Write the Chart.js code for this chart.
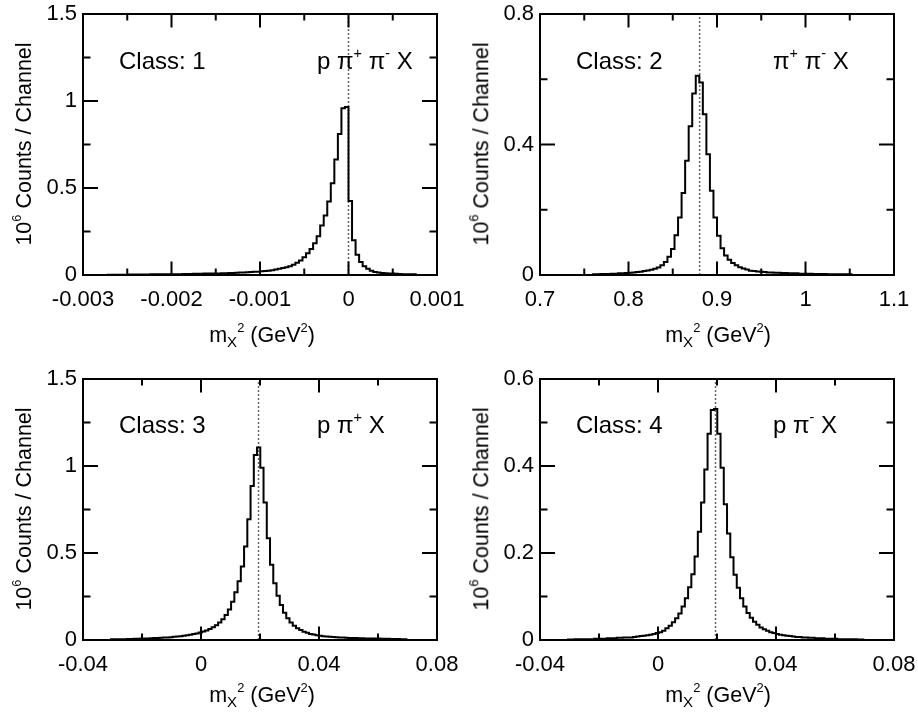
<!DOCTYPE html>
<html>
<head>
<meta charset="utf-8">
<script src="https://cdn.jsdelivr.net/npm/chart.js@4.4.1/dist/chart.umd.min.js"></script>
<style>
  body { margin: 0; background: #fff; width: 918px; height: 723px; position: relative; overflow: hidden;
         font-family: "Liberation Sans", Arial, sans-serif; color: #000; }
  canvas { position: absolute; }
  .txt { position: absolute; white-space: nowrap; line-height: 1; }
  .cls { font-size: 24px; }
  .xt { font-size: 21.5px; transform: translateX(-50%); }
  .yt { font-size: 21.5px; transform: translate(-50%, -50%) rotate(-90deg); }
  sup { font-size: 0.6em; position: relative; top: -0.75em; vertical-align: baseline; }
  sub { font-size: 0.7em; position: relative; top: 0.35em; vertical-align: baseline; }
</style>
</head>
<body>
<canvas id="c1" width="478" height="361" style="left:0;top:0"></canvas>
<canvas id="c2" width="459" height="361" style="left:459px;top:0"></canvas>
<canvas id="c3" width="478" height="362" style="left:0;top:361px"></canvas>
<canvas id="c4" width="459" height="362" style="left:459px;top:361px"></canvas>

<script>
// ---- data (counts in units of 10^6 per channel) ----

// class 1: p pi+ pi- X
const binStart1 = -0.00272;
const binWidth1 = 0.00004;
const counts1 = [
  0.002, 0.002, 0.002, 0.002, 0.002, 0.002, 0.003, 0.003,
  0.003, 0.003, 0.003, 0.003, 0.004, 0.004, 0.004, 0.004, 0.004, 0.005,
  0.005, 0.005, 0.005, 0.006, 0.006, 0.006, 0.007, 0.007, 0.007, 0.008,
  0.008, 0.008, 0.009, 0.009, 0.010, 0.010, 0.011, 0.012, 0.013, 0.014,
  0.015, 0.016, 0.017, 0.018, 0.019, 0.021, 0.023, 0.025, 0.028, 0.032,
  0.036, 0.040, 0.045, 0.051, 0.059, 0.070, 0.083, 0.102, 0.125, 0.150,
  0.183, 0.223, 0.284, 0.342, 0.422, 0.528, 0.664, 0.811, 0.958, 0.965,
  0.425, 0.200, 0.116, 0.074, 0.051, 0.036, 0.024, 0.017, 0.014, 0.011,
  0.010, 0.009, 0.008, 0.007, 0.006, 0.005, 0.005, 0.004, 0.004
];

// class 2: pi+ pi- X
const binStart2 = 0.760;
const binWidth2 = 0.004;
const counts2 = [
  0.002, 0.002, 0.003, 0.003, 0.003, 0.004, 0.004, 0.005, 0.005, 0.006,
  0.007, 0.008, 0.009, 0.010, 0.012, 0.014, 0.016, 0.019, 0.023, 0.030,
  0.040, 0.056, 0.080, 0.122, 0.176, 0.251, 0.350, 0.456, 0.556, 0.611,
  0.590, 0.493, 0.370, 0.258, 0.176, 0.120, 0.082, 0.060, 0.047, 0.037,
  0.030, 0.024, 0.020, 0.017, 0.013, 0.012, 0.011, 0.010, 0.009, 0.008,
  0.008, 0.007, 0.007, 0.006, 0.006, 0.005, 0.005, 0.005, 0.004, 0.004,
  0.004, 0.004, 0.003, 0.003, 0.003, 0.003, 0.002, 0.002, 0.002, 0.002,
  0.002, 0.002, 0.002
];

// class 3: p pi+ X
const binStart3 = -0.0305;
const binWidth3 = 0.0011;
const counts3 = [
  0.004, 0.004, 0.005, 0.005, 0.005, 0.006, 0.006, 0.007, 0.007, 0.008,
  0.009, 0.009, 0.010, 0.011, 0.012, 0.013, 0.014, 0.015, 0.016, 0.018,
  0.020, 0.022, 0.024, 0.027, 0.030, 0.034, 0.038, 0.043, 0.049, 0.055,
  0.063, 0.073, 0.085, 0.100, 0.119, 0.144, 0.176, 0.220, 0.274, 0.338,
  0.423, 0.537, 0.694, 0.885, 1.063, 1.107,
  0.990, 0.790, 0.585, 0.432, 0.326, 0.255, 0.201, 0.157, 0.125, 0.100,
  0.082, 0.068, 0.057, 0.048, 0.041, 0.035, 0.031, 0.027, 0.024,
  0.022, 0.020, 0.019, 0.017, 0.016, 0.015, 0.014, 0.013, 0.012, 0.012,
  0.011, 0.010, 0.010, 0.009, 0.009, 0.008, 0.008, 0.008, 0.007, 0.007,
  0.007, 0.006, 0.006, 0.006, 0.005, 0.005
];

// class 4: p pi- X
const binStart4 = -0.0305;
const binWidth4 = 0.0011;
const counts4 = [
  0.001, 0.001, 0.002, 0.002, 0.002, 0.002, 0.002, 0.002, 0.003, 0.003,
  0.003, 0.003, 0.004, 0.004, 0.004, 0.005, 0.005, 0.006, 0.006, 0.006,
  0.007, 0.008, 0.009, 0.010, 0.011, 0.012, 0.014, 0.016, 0.018, 0.021,
  0.027, 0.033, 0.041, 0.050, 0.061, 0.077, 0.096, 0.121, 0.151, 0.192,
  0.249, 0.316, 0.392, 0.474, 0.529, 0.531,
  0.474, 0.396, 0.312, 0.245, 0.190, 0.150, 0.120, 0.096, 0.077, 0.062,
  0.051, 0.042, 0.035, 0.029, 0.025, 0.021, 0.018, 0.016, 0.014,
  0.012, 0.011, 0.010, 0.009, 0.008, 0.007, 0.007, 0.006, 0.006, 0.005,
  0.005, 0.004, 0.004, 0.004, 0.003, 0.003, 0.003, 0.003, 0.002, 0.002,
  0.002, 0.002, 0.002, 0.002, 0.001, 0.001
];

// expected missing mass squared (dotted lines)
const refValues = [0, 0.8804, 0.0195, 0.0195];

// axes
const xTicks1 = [-0.003, -0.002, -0.001, 0, 0.001];
const xLabels1 = ["-0.003", "-0.002", "-0.001", "0", "0.001"];
const xTicks2 = [0.7, 0.8, 0.9, 1.0, 1.1];
const xLabels2 = ["0.7", "0.8", "0.9", "1", "1.1"];
const xTicks34 = [-0.04, 0, 0.04, 0.08];
const xLabels34 = ["-0.04", "0", "0.04", "0.08"];
const yTicks13 = [0, 0.5, 1, 1.5];
const yLabels13 = ["0", "0.5", "1", "1.5"];
const yTicks2 = [0, 0.4, 0.8];
const yLabels2 = ["0", "0.4", "0.8"];
const yTicks4 = [0, 0.2, 0.4, 0.6];
const yLabels4 = ["0", "0.2", "0.4", "0.6"];

const classLabels = ["Class: 1", "Class: 2", "Class: 3", "Class: 4"];
const reactionLabels = [
  "p π<sup>+</sup> π<sup>-</sup> X",
  "π<sup>+</sup> π<sup>-</sup> X",
  "p π<sup>+</sup> X",
  "p π<sup>-</sup> X"
];
const xTitle = "m<sub>X</sub><sup>2</sup> (GeV<sup>2</sup>)";
const yTitle = "10<sup>6</sup> Counts / Channel";

Chart.defaults.font.family = '"Liberation Sans", Arial, sans-serif';
Chart.defaults.color = "#000";

// frame with inward major/minor ticks on all four sides
const framePlugin = {
  id: "frame",
  afterDraw(chart) {
    const { ctx, chartArea: a, scales } = chart;
    const xs = scales.x, ys = scales.y;
    const mids = (v) => v.slice(1).map((w, i) => (w + v[i]) / 2);
    const xv = xs.ticks.map((t) => t.value);
    const yv = ys.ticks.map((t) => t.value);
    ctx.save();
    ctx.strokeStyle = "#000";
    ctx.lineWidth = 2;
    ctx.beginPath();
    const xTick = (val, len) => {
      const p = xs.getPixelForValue(val);
      ctx.moveTo(p, a.bottom); ctx.lineTo(p, a.bottom - len);
      ctx.moveTo(p, a.top); ctx.lineTo(p, a.top + len);
    };
    const yTick = (val, len) => {
      const p = ys.getPixelForValue(val);
      ctx.moveTo(a.left, p); ctx.lineTo(a.left + len, p);
      ctx.moveTo(a.right, p); ctx.lineTo(a.right - len, p);
    };
    xv.forEach((v) => xTick(v, 13.5));
    mids(xv).forEach((v) => xTick(v, 6.5));
    yv.forEach((v) => yTick(v, 15));
    mids(yv).forEach((v) => yTick(v, 7.5));
    ctx.stroke();
    ctx.strokeRect(a.left, a.top, a.right - a.left, a.bottom - a.top);
    ctx.restore();
  },
};

const histPoints = (start, width, counts) => {
  const pts = [{ x: start, y: 0 }];
  counts.forEach((c, i) => pts.push({ x: start + i * width, y: c }));
  pts.push({ x: start + counts.length * width, y: 0 });
  return pts;
};

const makePanel = (id, p) => {
  const canvas = document.getElementById(id);
  new Chart(canvas, {
    type: "line",
    data: {
      datasets: [
        {
          data: histPoints(p.start, p.width, p.counts),
          stepped: true,
          borderColor: "#000",
          borderWidth: 2,
          pointRadius: 0,
          fill: false,
          order: 1,
        },
        {
          data: [{ x: p.ref, y: p.yTicks[0] }, { x: p.ref, y: p.yTicks[p.yTicks.length - 1] }],
          borderColor: "#666",
          borderWidth: 1.5,
          borderDash: [2, 2],
          pointRadius: 0,
          fill: false,
          order: 2,
        },
      ],
    },
    options: {
      responsive: false,
      animation: false,
      devicePixelRatio: 1,
      events: [],
      layout: { padding: { top: p.top, right: canvas.width - p.right, left: 0, bottom: 0 } },
      plugins: { legend: { display: false }, tooltip: { enabled: false } },
      scales: {
        x: {
          type: "linear",
          min: p.xTicks[0],
          max: p.xTicks[p.xTicks.length - 1],
          grid: { display: false, drawTicks: false },
          border: { display: false },
          afterBuildTicks: (s) => { s.ticks = p.xTicks.map((v) => ({ value: v })); },
          afterFit: (s) => { s.height = canvas.height - p.bottom; s.paddingLeft = 0; s.paddingRight = 0; },
          ticks: {
            font: { size: 22 },
            padding: 12,
            maxRotation: 0,
            autoSkip: false,
            callback: (v, i) => p.xLabels[i],
          },
        },
        y: {
          type: "linear",
          min: p.yTicks[0],
          max: p.yTicks[p.yTicks.length - 1],
          grid: { display: false, drawTicks: false },
          border: { display: false },
          afterBuildTicks: (s) => { s.ticks = p.yTicks.map((v) => ({ value: v })); },
          afterFit: (s) => { s.width = p.left; s.paddingTop = 0; s.paddingBottom = 0; },
          ticks: {
            font: { size: 22 },
            padding: 6,
            autoSkip: false,
            callback: (v, i) => p.yLabels[i],
          },
        },
      },
    },
    plugins: [framePlugin],
  });
};

// chart areas are given in each canvas's own pixels
makePanel("c1", { start: binStart1, width: binWidth1, counts: counts1, ref: refValues[0],
  xTicks: xTicks1, xLabels: xLabels1, yTicks: yTicks13, yLabels: yLabels13,
  left: 83, right: 437, top: 14, bottom: 275 });
makePanel("c2", { start: binStart2, width: binWidth2, counts: counts2, ref: refValues[1],
  xTicks: xTicks2, xLabels: xLabels2, yTicks: yTicks2, yLabels: yLabels2,
  left: 81, right: 435, top: 14, bottom: 275 });
makePanel("c3", { start: binStart3, width: binWidth3, counts: counts3, ref: refValues[2],
  xTicks: xTicks34, xLabels: xLabels34, yTicks: yTicks13, yLabels: yLabels13,
  left: 83, right: 437, top: 18, bottom: 279 });
makePanel("c4", { start: binStart4, width: binWidth4, counts: counts4, ref: refValues[3],
  xTicks: xTicks34, xLabels: xLabels34, yTicks: yTicks4, yLabels: yLabels4,
  left: 81, right: 435, top: 18, bottom: 279 });

// text overlays: class, reaction, axis titles
const textSpots = [
  { cls: [119, 49], rx: [317, 49], xt: [262, 325], yt: [25, 144] },
  { cls: [576, 49], rx: [773, 49], xt: [718, 325], yt: [482, 144] },
  { cls: [119, 413], rx: [317, 413], xt: [262, 685], yt: [25, 509] },
  { cls: [576, 413], rx: [773, 413], xt: [718, 685], yt: [482, 509] },
];
const addText = (html, className, x, y) => {
  const d = document.createElement("div");
  d.className = "txt " + className;
  d.innerHTML = html;
  d.style.left = x + "px";
  d.style.top = y + "px";
  document.body.appendChild(d);
};
textSpots.forEach((s, i) => {
  addText(classLabels[i], "cls", s.cls[0], s.cls[1]);
  addText(reactionLabels[i], "cls", s.rx[0], s.rx[1]);
  addText(xTitle, "xt", s.xt[0], s.xt[1]);
  addText(yTitle, "yt", s.yt[0], s.yt[1]);
});
</script>
</body>
</html>
